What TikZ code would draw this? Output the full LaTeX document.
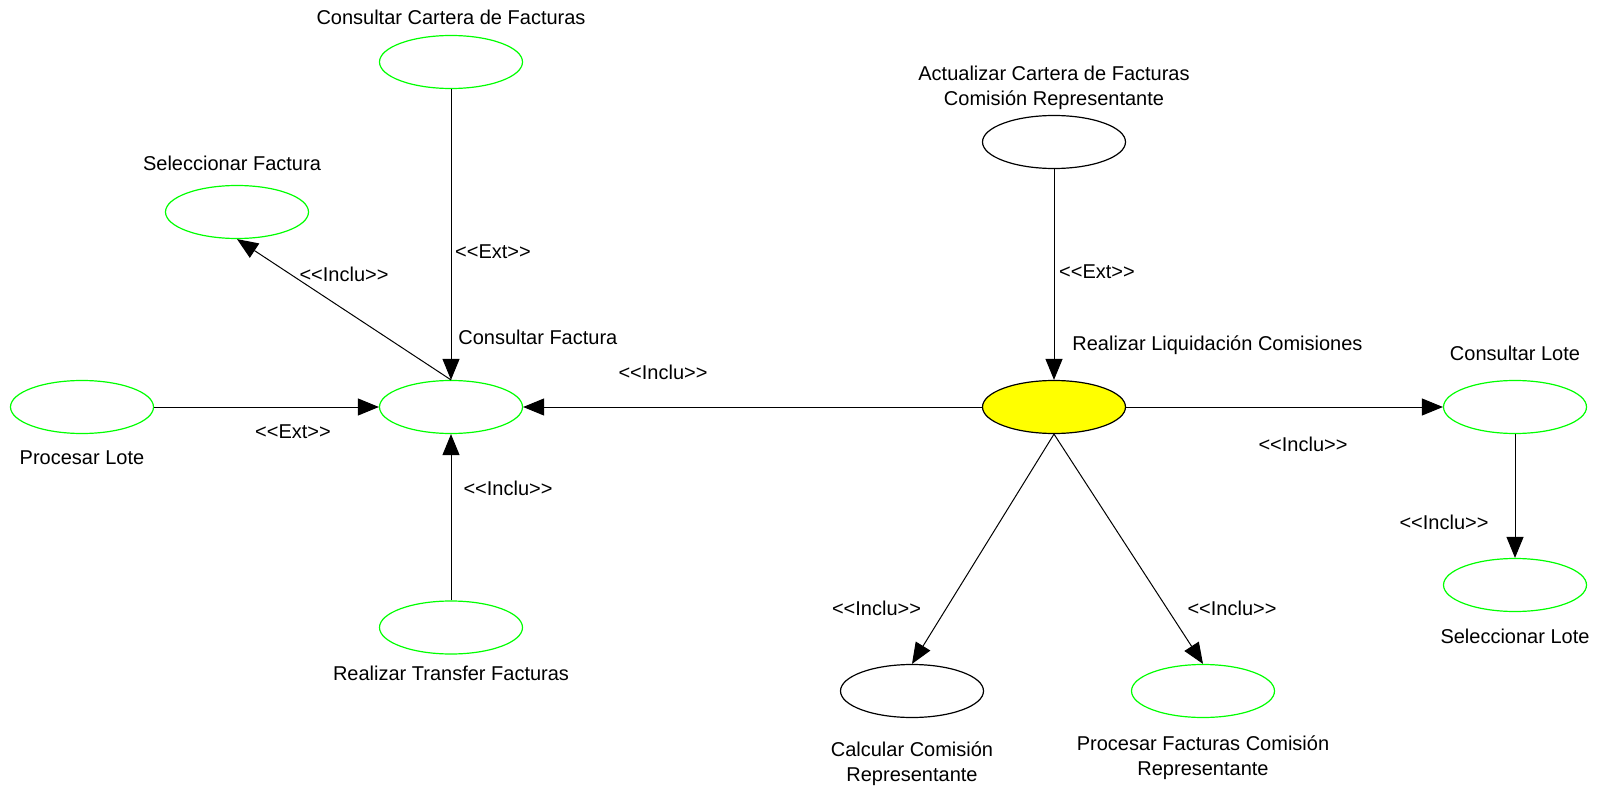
\documentclass[tikz,border=0pt]{standalone}
\usepackage{fontspec}
\setmainfont{Liberation Sans}
\usetikzlibrary{shapes.geometric,arrows.meta}
\definecolor{ucgreen}{RGB}{0,255,0}
\definecolor{ucyellow}{RGB}{255,255,0}
\tikzset{
  uc/.style={ellipse, draw=ucgreen, line width=0.6pt, minimum width=71.5pt, minimum height=26.5pt, inner sep=0pt},
  ucblack/.style={uc, draw=black},
  ucmain/.style={uc, draw=black, fill=ucyellow},
  lbl/.style={font=\fontsize{10}{12.3}\selectfont, inner sep=0pt, align=center},
  rel/.style={draw=black, line width=0.5pt, -{Triangle[length=10.5pt,width=8.5pt]}},
}
\begin{document}
\begin{tikzpicture}[x=0.5pt,y=-0.5pt]
\useasboundingbox (0,0) rectangle (1600,786);
% use cases
\node[uc] (cartera) at (451,62) {};
\node[uc] (selfact) at (237,212) {};
\node[uc] (consfact) at (451,407) {};
\node[uc] (proclote) at (82,407) {};
\node[uc] (transfer) at (451,627.5) {};
\node[ucblack] (actual) at (1054,142) {};
\node[ucmain] (liq) at (1054,407) {};
\node[uc] (conslote) at (1515,407) {};
\node[uc] (sellote) at (1515,585) {};
\node[ucblack] (calc) at (912,691) {};
\node[uc] (procfact) at (1203,691) {};
% names
\node[lbl] (tcartera) at (451,17) {Consultar Cartera de Facturas};
\node[lbl] (tselfact) at (232,163) {Seleccionar Factura};
\node[lbl, anchor=west] (tconsfact) at (458,337) {Consultar Factura};
\node[lbl] (tproclote) at (82,458) {Procesar Lote};
\node[lbl] (ttransfer) at (451,673) {Realizar Transfer Facturas};
\node[lbl] (tactual) at (1054,88) {Actualizar Cartera de Facturas\\Comisión Representante};
\node[lbl, anchor=west] (tliq) at (1072,345) {Realizar Liquidación Comisiones};
\node[lbl] (tconslote) at (1515,353) {Consultar Lote};
\node[lbl] (tsellote) at (1515,636) {Seleccionar Lote};
\node[lbl] (tcalc) at (912,763.5) {Calcular Comisión\\Representante};
\node[lbl] (tprocfact) at (1203,757.5) {Procesar Facturas Comisión\\Representante};
% relations
\draw[rel] (cartera.south) -- (consfact.north);
\draw[rel] (consfact.north) -- (selfact.south);
\draw[rel] (proclote.east) -- (consfact.west);
\draw[rel] (transfer.north) -- (consfact.south);
\draw[rel] (liq.west) -- (consfact.east);
\draw[rel] (actual.south) -- (liq.north);
\draw[rel] (liq.east) -- (conslote.west);
\draw[rel] (conslote.south) -- (sellote.north);
\draw[rel] (liq.south) -- (calc.north);
\draw[rel] (liq.south) -- (procfact.north);
% relation labels
\node[lbl] (l1) at (493,252) {<{}<Ext>{}>};
\node[lbl] (l2) at (344,274.5) {<{}<Inclu>{}>};
\node[lbl] (l3) at (293,431.5) {<{}<Ext>{}>};
\node[lbl] (l4) at (508,488) {<{}<Inclu>{}>};
\node[lbl] (l5) at (663,372.5) {<{}<Inclu>{}>};
\node[lbl] (l6) at (1097,271.5) {<{}<Ext>{}>};
\node[lbl] (l7) at (1303,444) {<{}<Inclu>{}>};
\node[lbl] (l8) at (1444,522.5) {<{}<Inclu>{}>};
\node[lbl] (l9) at (876.5,608) {<{}<Inclu>{}>};
\node[lbl] (l10) at (1232,608) {<{}<Inclu>{}>};
\end{tikzpicture}
\end{document}
